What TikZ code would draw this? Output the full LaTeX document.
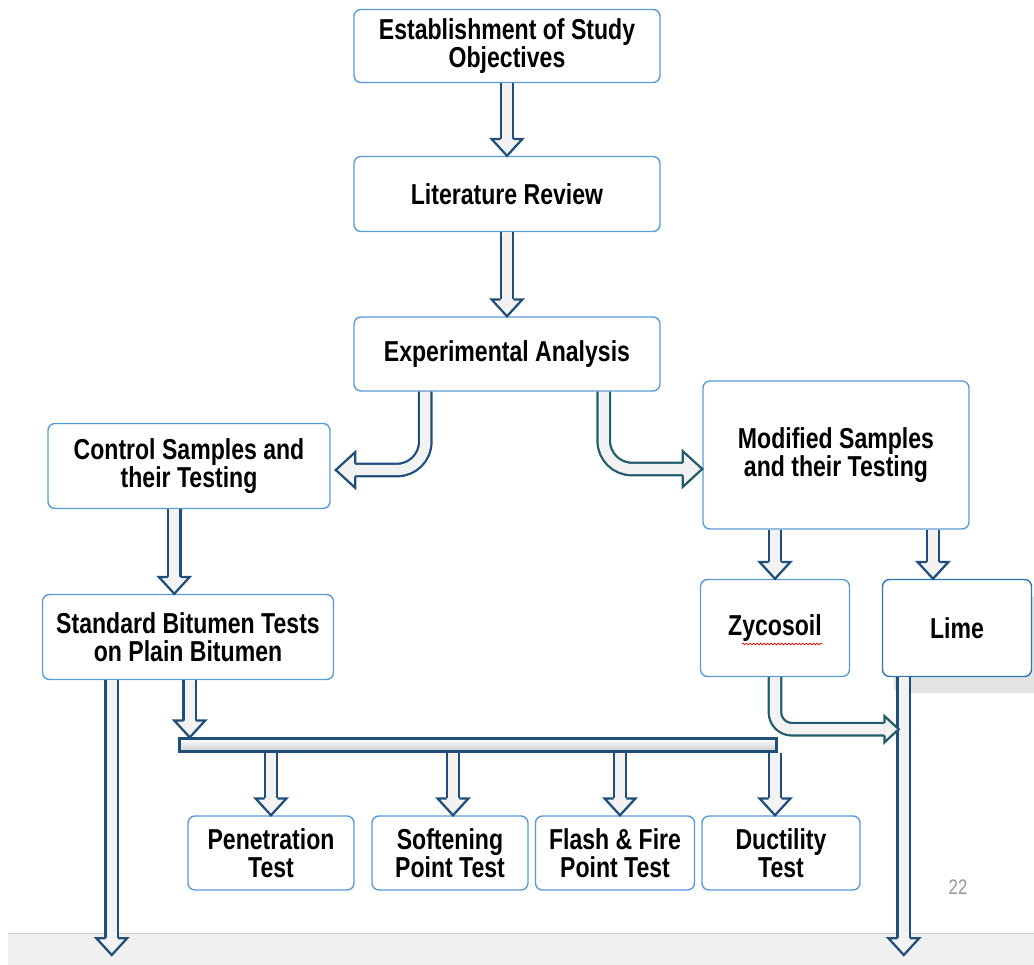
\documentclass[tikz,border=0pt]{standalone}
\usepackage{fontspec}
\setmainfont{Liberation Sans}[FakeStretch=0.8]
\usetikzlibrary{calc,shadows,decorations.pathmorphing}

\definecolor{boxblue}{RGB}{91,155,213}
\definecolor{arrowblue}{RGB}{31,78,121}
\definecolor{arrowteal}{RGB}{33,92,104}
\definecolor{limeblue}{RGB}{46,117,182}

\tikzset{
  box/.style={draw=boxblue, line width=1pt, rounded corners=5pt, fill=white, align=center,
    font=\bfseries\fontsize{20.5}{20}\selectfont},
  shaft/.style={draw=#1, line width=1.6pt, double=gray!10, double distance=7.3pt},
  shaft/.default=arrowblue,
  pics/headtip/.style 2 args={code={
    \filldraw[draw=#1, fill=gray!10, line width=1.6pt, line join=miter]
      (-12pt*#2,4.45pt) -- (-12pt*#2,11pt*#2) -- (0,0) -- (-12pt*#2,-11pt*#2) -- (-12pt*#2,-4.45pt);}}
}

% straight block arrow going down from #2 to the height of #3
\newcommand{\vblock}[3][arrowblue]{%
  \draw[shaft=#1, shorten >=12pt] (#2) -- (#2 |- #3);
  \pic[rotate=-90] at (#2 |- #3) {headtip={#1}{1}};}

\begin{document}
\begin{tikzpicture}[x=0.025cm, y=-0.025cm]
    \useasboundingbox (0,0) rectangle (1034,965);
    % slide footer
    \fill[gray!12] (8,933) rectangle (1034,965);
    \draw[gray!40] (8,933) -- (1034,933);
    \node[text=gray!80, font=\fontsize{15}{15}\selectfont] (page) at (958,887) {22};

    \node[box, minimum width=7.65cm, minimum height=1.825cm] (est) at (507,46) {Establishment of Study\\Objectives};
    \node[box, minimum width=7.65cm, minimum height=1.875cm] (lit) at (507,194) {Literature Review};
    \node[box, minimum width=7.65cm, minimum height=1.85cm] (exp) at (507,354) {Experimental Analysis};
    \node[box, minimum width=7.05cm, minimum height=2.125cm] (ctrl) at (189,466) {Control Samples and\\their Testing};
    \node[box, minimum width=6.65cm, minimum height=3.7cm] (mod) at (836,455) {Modified Samples\\and their Testing};
    \node[box, minimum width=7.275cm, minimum height=2.125cm] (std) at (188,637) {Standard Bitumen Tests\\on Plain Bitumen};
    \node[box, minimum width=3.725cm, minimum height=2.425cm] (zyc) at (775,628) {Zycosoil};
    \draw[red!85!black, line width=0.5pt, decorate, decoration={snake, amplitude=0.6pt, segment length=2.5pt}]
        ($(zyc.center)+(-33,16)$) -- ($(zyc.center)+(48,16)$);
    \node[box, draw=limeblue, drop shadow={shadow xshift=8pt, shadow yshift=-12pt, opacity=0.22},
        minimum width=3.725cm, minimum height=2.425cm] (lime) at (957,628) {Lime};

    \node[box, minimum width=4.15cm, minimum height=1.85cm] (pen) at (271,853) {Penetration\\Test};
    \node[box, minimum width=3.9cm, minimum height=1.85cm] (soft) at (450,853) {Softening\\Point Test};
    \node[box, minimum width=3.975cm, minimum height=1.85cm] (flash) at (615,853) {Flash \& Fire\\Point Test};
    \node[box, minimum width=3.95cm, minimum height=1.85cm] (duct) at (781,853) {Ductility\\Test};
    \node[draw=arrowblue, line width=1.6pt, top color=white, bottom color=gray!40, inner sep=0pt,
        minimum width=14.925cm, minimum height=0.325cm] (bus) at (478,745) {};

    \coordinate (zyctop) at (zyc.north |- mod.south);
    \coordinate (limetop) at ($(lime.north |- mod.south)+(-24,0)$);
    \coordinate (ctrlout) at ($(ctrl.south west)+(127,0)$);
    \coordinate (stdout) at ($(std.south west)+(70,0)$);
    \coordinate (stdbus) at ($(std.south west)+(148,0)$);
    \coordinate (limeout) at ($(lime.south west)+(22,0)$);
    \coordinate (leftend) at (stdout |- 0,955);
    \coordinate (rightend) at (limeout |- 0,955);
    \coordinate (ctrlbend) at ($(exp.south west)+(72,0)$);
    \coordinate (ctrlin) at ($(ctrl.east)+(5,4)$);
    \coordinate (modbend) at ($(exp.south east)+(-57,0)$);
    \coordinate (modin) at ($(mod.west)+(0,14)$);
    \coordinate (zycin) at ($(limeout)+(-5,52)$);

    \vblock{est.south}{lit.north}
    \vblock{lit.south}{exp.north}
    \vblock{ctrlout}{std.north}
    \vblock{zyctop}{zyc.north}
    \vblock{limetop}{lime.north}
    \vblock{stdout}{leftend}
    \vblock{stdbus}{bus.north}
    \vblock{limeout}{rightend}
    \foreach \t/\dx in {pen/0,soft/3,flash/5,duct/-6} {
        \coordinate (top) at ($(bus.south -| \t.north)+(\dx,0)$);
        \vblock{top}{\t.north}
    }

    % bent block arrows
    \draw[shaft, rounded corners=20pt, shorten >=13.8pt] (ctrlbend) |- (ctrlin);
    \pic[rotate=180] at (ctrlin) {headtip={arrowblue}{1.15}};
    \draw[shaft=arrowteal, rounded corners=20pt, shorten >=13.8pt] (modbend) |- (modin);
    \pic at (modin) {headtip={arrowteal}{1.15}};
    \draw[shaft=arrowteal, rounded corners=12pt, shorten >=10.2pt] (zyc.south) |- (zycin);
    \pic at (zycin) {headtip={arrowteal}{0.85}};
\end{tikzpicture}
\end{document}
